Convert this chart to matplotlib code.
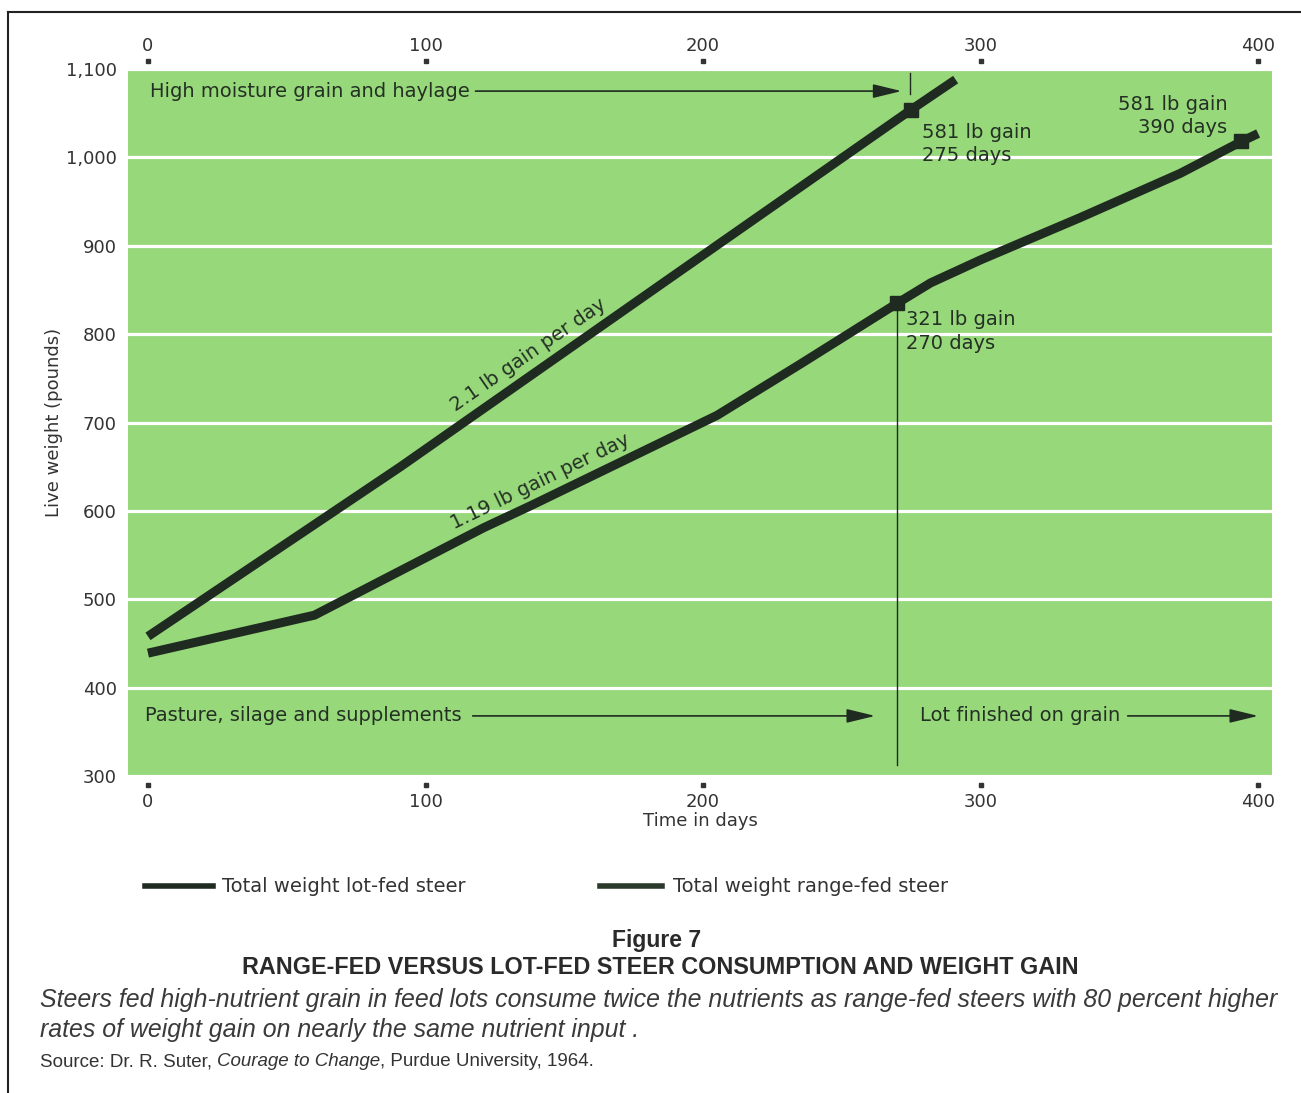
import matplotlib
matplotlib.use("Agg")
import matplotlib.pyplot as plt
from matplotlib.lines import Line2D
import matplotlib.transforms as mtransforms
import math

# valeurs (jours, livres)
lot_days = [0, 91, 187, 275, 291]
lot_weight = [458, 650, 861, 1054, 1088]
range_days = [0, 60, 121, 138, 205, 235, 270, 282, 300, 336, 372, 394, 400]
range_weight = [439, 482, 581, 606, 708, 766, 835, 858, 884, 932, 982, 1018, 1027]

lot_mark_days = [275]
lot_mark_weight = [1054]
range_mark_days = [270, 394]
range_mark_weight = [835, 1018]

day_ticks = [0, 100, 200, 300, 400]
weight_ticks = [300, 400, 500, 600, 700, 800, 900, 1000, 1100]
weight_labels = ["300", "400", "500", "600", "700", "800", "900", "1,000", "1,100"]

GREEN = "#97d87a"
INK = "#1f2a20"
TXT = "#243024"
FS = 14

fig = plt.figure(figsize=(13.01, 10.93), dpi=100)
W, H = 1301, 1093
ax = fig.add_axes([128 / W, 1 - 776 / H, (1272 - 128) / W, (776 - 69) / H])
ax.set_facecolor(GREEN)
ax.set_xlim(-7.2, 405)
ax.set_ylim(300, 1100)
for s in ax.spines.values():
    s.set_visible(False)

ax.set_yticks(weight_ticks)
ax.set_yticklabels(weight_labels)
ax.grid(axis="y", color="white", lw=2.3)
ax.set_axisbelow(True)
ax.tick_params(axis="y", length=0, pad=8, labelsize=13, labelcolor="#333333")
ax.set_xticks(day_ticks)
ax.tick_params(axis="x", length=0, pad=12, labelsize=13, labelcolor="#333333")
ax.set_ylabel("Live weight (pounds)", fontsize=13, color="#333333", labelpad=2)
ax.set_xlabel("Time in days", fontsize=13, color="#333333", labelpad=1)

top = ax.twiny()
top.set_xlim(ax.get_xlim())
top.set_xticks(day_ticks)
top.tick_params(axis="x", length=0, pad=10, labelsize=13, labelcolor="#333333")
for s in top.spines.values():
    s.set_visible(False)

# petits points des graduations, decolles du cadre
bt = mtransforms.blended_transform_factory(ax.transData, ax.transAxes)
ax.plot(day_ticks, [-0.013] * len(day_ticks), "s", ms=3, color="#333333",
        transform=bt, clip_on=False)
ax.plot(day_ticks, [1.011] * len(day_ticks), "s", ms=3, color="#333333",
        transform=bt, clip_on=False)

# courbes
lot_line, = ax.plot(lot_days, lot_weight, color=INK, lw=6.5, solid_capstyle="butt",
                    solid_joinstyle="round", zorder=4)
range_line, = ax.plot(range_days, range_weight, color=INK, lw=6.5, solid_capstyle="butt",
                      solid_joinstyle="round", zorder=4)
ax.plot(lot_mark_days, lot_mark_weight, "s", ms=10, color=INK, zorder=5)
ax.plot(range_mark_days, range_mark_weight, "s", ms=10, color=INK, zorder=5)

# traits verticaux
ax.plot([270, 270], [835, 312], color=INK, lw=1)
ax.plot([274.5, 274.5], [1072, 1096], color=INK, lw=1)

# fleches et textes
arrow = dict(arrowstyle="-|>,head_length=0.7,head_width=0.17", mutation_scale=25,
             lw=1.2, color=INK, shrinkA=0, shrinkB=0)
ax.text(0.7, 1075, "High moisture grain and haylage", fontsize=FS, color=TXT,
        ha="left", va="center")
ax.annotate("", xy=(271.5, 1075), xytext=(118, 1075), arrowprops=arrow)
ax.text(-1, 368, "Pasture, silage and supplements", fontsize=FS, color=TXT,
        ha="left", va="center")
ax.annotate("", xy=(262, 368), xytext=(117, 368), arrowprops=arrow)
ax.text(278, 368, "Lot finished on grain", fontsize=FS, color=TXT,
        ha="left", va="center")
ax.annotate("", xy=(400, 368), xytext=(353, 368), arrowprops=arrow)

ax.text(279, 1015, "581 lb gain\n275 days", fontsize=FS, color=TXT,
        ha="left", va="center", linespacing=1.3)
ax.text(389, 1047, "581 lb gain\n390 days", fontsize=FS, color=TXT,
        ha="right", va="center", linespacing=1.3, multialignment="right")
ax.text(273, 803, "321 lb gain\n270 days", fontsize=FS, color=TXT,
        ha="left", va="center", linespacing=1.3)


# angle des etiquettes le long des droites
def angle(x1, y1, x2, y2):
    p1 = ax.transData.transform((x1, y1))
    p2 = ax.transData.transform((x2, y2))
    return math.degrees(math.atan2(p2[1] - p1[1], p2[0] - p1[0]))


a_lot = angle(lot_days[0], lot_weight[0], lot_days[-1], lot_weight[-1])
a_rng = angle(range_days[3], range_weight[3], range_days[4], range_weight[4])
ax.text(137, 776, "2.1 lb gain per day", fontsize=FS, color=TXT, rotation=a_lot,
        rotation_mode="anchor", ha="center", va="center")
ax.text(141.5, 633, "1.19 lb gain per day", fontsize=FS, color=TXT, rotation=a_rng,
        rotation_mode="anchor", ha="center", va="center")

# legende
fig.add_artist(Line2D([145 / W, 213 / W], [1 - 886 / H] * 2, color=INK, lw=4))
fig.text(222 / W, 1 - 886 / H, "Total weight lot-fed steer", fontsize=FS,
         color="#333333", va="center")
fig.add_artist(Line2D([600 / W, 662 / W], [1 - 886 / H] * 2, color="#2a3a2a", lw=4))
fig.text(673 / W, 1 - 886 / H, "Total weight range-fed steer", fontsize=FS,
         color="#333333", va="center")

# cadre de la page
fig.add_artist(Line2D([8 / W, 1], [1 - 12 / H] * 2, color="#222222", lw=1.5))
fig.add_artist(Line2D([8 / W] * 2, [1 - 12 / H, 0], color="#222222", lw=1.5))

# legende de la figure
cap = ["Liberation Sans", "DejaVu Sans"]
fig.text(657 / W, 1 - 940 / H, "Figure 7", family=cap, fontsize=16.5, weight="bold",
         color="#2a2a2a", ha="center", va="center")
fig.text(660 / W, 1 - 968 / H, "RANGE-FED VERSUS LOT-FED STEER CONSUMPTION AND WEIGHT GAIN",
         family=cap, fontsize=16.8, weight="bold", color="#2a2a2a", ha="center", va="center")
fig.text(40 / W, 1 - 1000 / H,
         "Steers fed high-nutrient grain in feed lots consume twice the nutrients as "
         "range-fed steers with 80 percent higher",
         family=cap, fontsize=17.9, style="italic", color="#3a3a3a", va="center")
fig.text(40 / W, 1 - 1030 / H, "rates of weight gain on nearly the same nutrient input .",
         family=cap, fontsize=17.9, style="italic", color="#3a3a3a", va="center")

r = fig.canvas.get_renderer()
t1 = fig.text(40 / W, 1 - 1062 / H, "Source: Dr. R. Suter, ", family=cap, fontsize=13.5,
              color="#333333", va="center")
x = t1.get_window_extent(r).x1 / fig.bbox.width
t2 = fig.text(x, 1 - 1062 / H, "Courage to Change", family=cap, fontsize=13.5,
              style="italic", color="#333333", va="center")
x = t2.get_window_extent(r).x1 / fig.bbox.width
fig.text(x, 1 - 1062 / H, ", Purdue University, 1964.", family=cap, fontsize=13.5,
         color="#333333", va="center")

fig.savefig("out.png", dpi=100)
